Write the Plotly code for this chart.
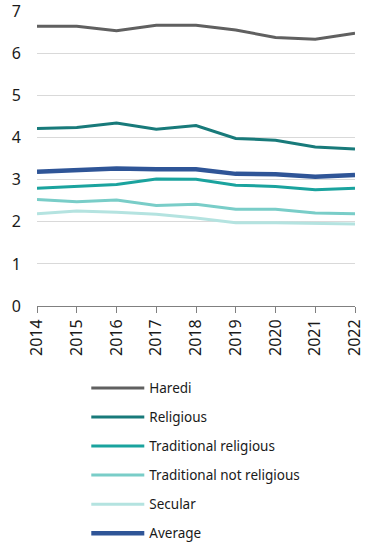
import plotly.graph_objects as go

years = [2014, 2015, 2016, 2017, 2018, 2019, 2020, 2021, 2022]
haredi = [6.65, 6.65, 6.54, 6.67, 6.67, 6.56, 6.38, 6.34, 6.48]
religious = [4.22, 4.24, 4.35, 4.20, 4.29, 3.98, 3.94, 3.78, 3.73]
trad_religious = [2.80, 2.84, 2.89, 3.02, 3.01, 2.87, 2.84, 2.76, 2.80]
trad_not_religious = [2.53, 2.48, 2.52, 2.39, 2.42, 2.30, 2.30, 2.21, 2.19]
secular = [2.19, 2.26, 2.23, 2.18, 2.09, 1.98, 1.98, 1.96, 1.95]
average = [3.19, 3.24, 3.27, 3.25, 3.25, 3.14, 3.13, 3.07, 3.11]
y_ticks = [0, 1, 2, 3, 4, 5, 6, 7]

series = [
    ("Haredi", haredi, "#606060", 3),
    ("Religious", religious, "#187a7a", 3),
    ("Traditional religious", trad_religious, "#1aa39e", 3),
    ("Traditional not religious", trad_not_religious, "#79cdc8", 3),
    ("Secular", secular, "#b4e3e0", 3),
    ("Average", average, "#2f5597", 4.5),
]

fig = go.Figure()
for i, (name, vals, color, w) in enumerate(series):
    fig.add_trace(go.Scatter(
        x=years, y=vals, name=name, mode="lines",
        line=dict(color=color, width=w),
        legendgroup=name, legendrank=i + 1,
    ))

font = "Noto Sans, Open Sans, sans-serif"
fig.update_layout(
    width=377, height=546,
    margin=dict(l=37, r=22, t=11, b=240, autoexpand=False),
    paper_bgcolor="white", plot_bgcolor="white",
    font=dict(family=font, color="#1a1a1a"),
    showlegend=True,
    legend=dict(
        x=0.155, xanchor="left", y=-0.226, yanchor="top",
        font=dict(size=13.5, family=font, color="#1a1a1a"),
        tracegroupgap=8.5, itemwidth=53,
        bgcolor="rgba(0,0,0,0)",
    ),
    xaxis=dict(
        range=[2014, 2022], tickmode="array", tickvals=years,
        ticktext=[str(y) for y in years], tickangle=-90,
        showgrid=False, zeroline=False, automargin=False,
        showline=True, linecolor="#808080", linewidth=1,
        ticks="outside", ticklen=6, tickcolor="#808080",
        tickfont=dict(size=16, family=font, color="#1a1a1a"),
    ),
    yaxis=dict(
        range=[0, 7.01], tickmode="array", tickvals=y_ticks,
        ticktext=[str(v) for v in y_ticks], automargin=False,
        showgrid=True, gridcolor="#d9d9d9", gridwidth=1,
        zeroline=False, showline=False,
        ticks="outside", ticklen=12, tickcolor="rgba(0,0,0,0)",
        ticklabeloverflow="allow",
        tickfont=dict(size=16, family=font, color="#1a1a1a"),
    ),
)

fig.write_html(
    "out.html",
    config={"displayModeBar": False},
    post_script="document.body.style.margin='0';document.body.style.overflow='hidden';",
)
